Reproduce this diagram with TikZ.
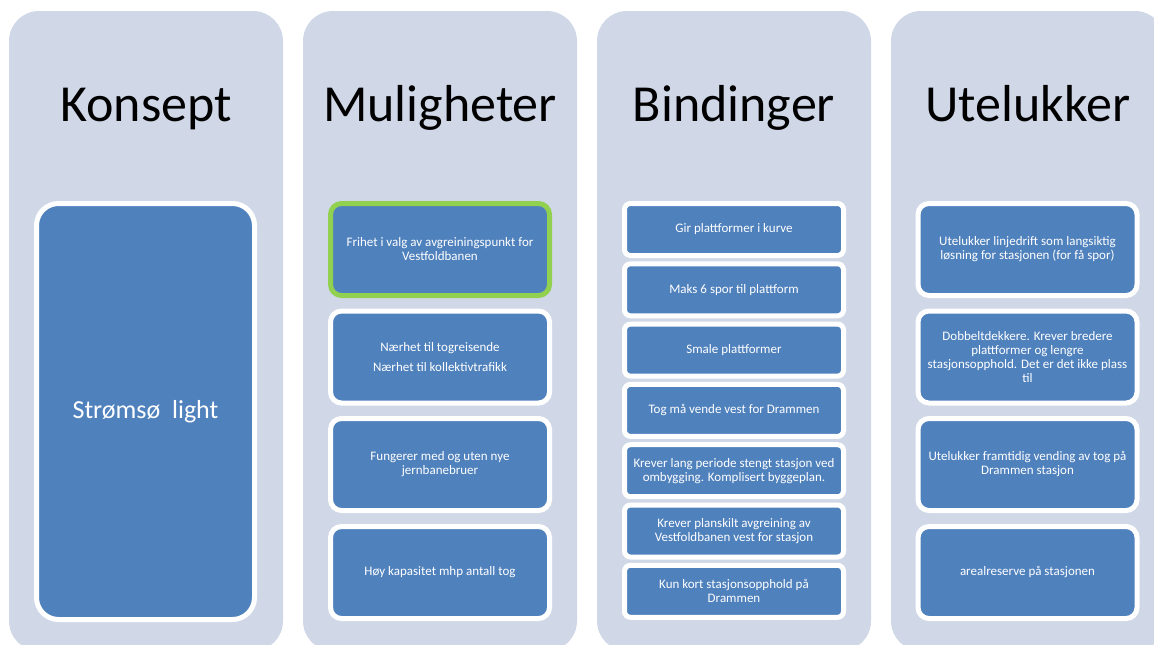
\documentclass[tikz,border=0pt]{standalone}
\usepackage{fontspec}
\setmainfont{Carlito}
\definecolor{panelbg}{HTML}{D0D8E8}
\definecolor{boxblue}{HTML}{4F81BD}
\definecolor{hilite}{HTML}{92D050}
\tikzset{
  panel/.style={fill=panelbg, rounded corners=30pt, minimum width=274pt, minimum height=640pt, inner sep=0pt},
  heading/.style={anchor=base, font=\fontsize{52}{60}\selectfont, text=black},
  card/.style={draw=white, line width=5pt, fill=boxblue, text=white, align=center,
    inner sep=0pt, font=\fontsize{13}{14}\selectfont},
  tallcard/.style={card, rounded corners=11pt, minimum width=219pt, minimum height=92pt},
  shortcard/.style={card, rounded corners=6pt, minimum width=219pt, minimum height=52pt},
}
\begin{document}
\begin{tikzpicture}[x=1pt,y=-1pt]
\useasboundingbox (0,0) rectangle (1154,645);
\clip (0,0) rectangle (1154,645);

% column panels
\node[panel] (p1) at (146,331) {};
\node[panel] (p2) at (440,331) {};
\node[panel] (p3) at (734,331) {};
\node[panel] (p4) at (1028,331) {};

% headings
\node[heading] (h1) at (146,121) {Konsept};
\node[heading] (h2) at (440,121) {Muligheter};
\node[heading] (h3) at (734,121) {Bindinger};
\node[heading] (h4) at (1028,121) {Utelukker};

% concept
\node[card, rounded corners=22pt, minimum width=218pt, minimum height=416pt,
  font=\fontsize{26}{30}\selectfont] (k1) at (145.5,411.5) {Strømsø\ \ light};

% possibilities
\node[tallcard, draw=hilite] (m1) at (440,249.5) {Frihet i valg av avgreiningspunkt for\\Vestfoldbanen};
\node[tallcard] (m2) at (440,357) {Nærhet til togreisende\\[6pt]Nærhet til kollektivtrafikk};
\node[tallcard] (m3) at (440,464.5) {Fungerer med og uten nye\\jernbanebruer};
\node[tallcard] (m4) at (440,572.5) {Høy kapasitet mhp antall tog};

% constraints
\node[shortcard] (b1) at (734,229.5) {Gir plattformer i kurve};
\node[shortcard] (b2) at (734,289.8) {Maks 6 spor til plattform};
\node[shortcard] (b3) at (734,350.1) {Smale plattformer};
\node[shortcard] (b4) at (734,410.4) {Tog må vende vest for Drammen};
\node[shortcard] (b5) at (734,470.7) {Krever lang periode stengt stasjon ved\\ombygging. Komplisert byggeplan.};
\node[shortcard] (b6) at (734,531.0) {Krever planskilt avgreining av\\Vestfoldbanen vest for stasjon};
\node[shortcard] (b7) at (734,591.3) {Kun kort stasjonsopphold på\\Drammen};

% exclusions
\node[tallcard] (u1) at (1027.5,249.5) {Utelukker linjedrift som langsiktig\\løsning for stasjonen (for få spor)};
\node[tallcard] (u2) at (1027.5,357) {Dobbeltdekkere. Krever bredere\\plattformer og lengre\\stasjonsopphold. Det er det ikke plass\\til};
\node[tallcard] (u3) at (1027.5,464.5) {Utelukker framtidig vending av tog på\\Drammen stasjon};
\node[tallcard] (u4) at (1027.5,572.5) {arealreserve på stasjonen};
\end{tikzpicture}
\end{document}
